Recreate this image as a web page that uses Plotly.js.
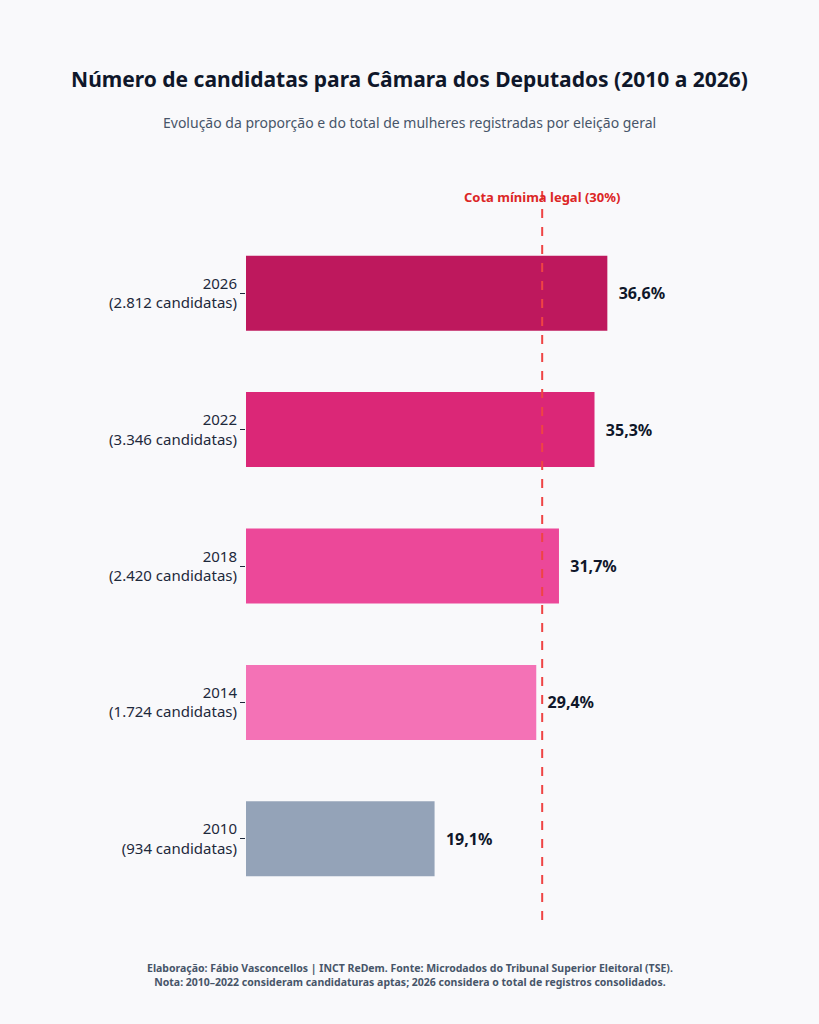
<!DOCTYPE html>
<html>
<head>
<meta charset="utf-8">
<script src="https://cdn.plot.ly/plotly-3.0.1.min.js"></script>
<style>body{margin:0;background:#f9f9fb}</style>
</head>
<body>
<div id="chart" style="width:819px;height:1024px"></div>
<script>
var anos = ["2010", "2014", "2018", "2022", "2026"];
var candidatas = ["934", "1.724", "2.420", "3.346", "2.812"];
var proporcao = [19.1, 29.4, 31.7, 35.3, 36.6];
var cores = ["#94a3b8", "#f472b6", "#ec4899", "#db2777", "#be185d"];
var cota = 30;

var labels = anos.map(function(a, i) { return a + "<br>(" + candidatas[i] + " candidatas)"; });

var trace = {
    type: "bar",
    orientation: "h",
    x: proporcao,
    y: labels,
    width: 0.55,
    marker: {color: cores},
    text: proporcao.map(function(v) { return "  <b>" + v.toFixed(1).replace(".", ",") + "%</b>"; }),
    textposition: "outside",
    textfont: {size: 16, color: "#0f172a"},
    cliponaxis: false,
    hoverinfo: "none"
};

var pw = 819 - 246 - 30;
var pageCentre = (409.5 - 246) / pw;

var layout = {
    width: 819, height: 1024,
    paper_bgcolor: "#f9f9fb", plot_bgcolor: "#f9f9fb",
    font: {family: "Noto Sans, sans-serif", color: "#1e293b"},
    margin: {l: 246, r: 30, t: 225, b: 117},
    showlegend: false,
    title: {text: "<b>Número de candidatas para Câmara dos Deputados (2010 a 2026)</b>",
        x: 0.5, xref: "container", xanchor: "center", y: 0.922, yanchor: "middle",
        font: {size: 21, color: "#0f172a"}},
    xaxis: {range: [0, 55], visible: false, fixedrange: true},
    yaxis: {tickfont: {size: 15, color: "#1e293b"}, ticks: "outside", ticklen: 5,
        tickcolor: "#1e293b", showline: false, showgrid: false, fixedrange: true},
    shapes: [{type: "line", xref: "x", yref: "paper", x0: cota, x1: cota, y0: -0.019, y1: 1.059,
        line: {color: "#ef4444", width: 2, dash: "dash"}}],
    annotations: [
        {text: "Evolução da proporção e do total de mulheres registradas por eleição geral",
            xref: "paper", yref: "paper", x: pageCentre, xanchor: "center", y: 1.15, yanchor: "middle",
            showarrow: false, font: {size: 14, color: "#475569"}},
        {text: "<b>Cota mínima legal (30%)</b>", xref: "x", yref: "paper", x: cota, y: 1.041,
            yanchor: "middle", showarrow: false, font: {size: 13, color: "#dc2626"}},
        {text: "<b>Elaboração: Fábio Vasconcellos | INCT ReDem. Fonte: Microdados do Tribunal Superior Eleitoral (TSE).<br>Nota: 2010–2022 consideram candidaturas aptas; 2026 considera o total de registros consolidados.</b>",
            xref: "paper", yref: "paper", x: pageCentre, xanchor: "center", y: -0.1, yanchor: "middle",
            showarrow: false, font: {size: 10.5, color: "#475569"}}
    ]
};

Plotly.newPlot("chart", [trace], layout, {displayModeBar: false});
</script>
</body>
</html>
